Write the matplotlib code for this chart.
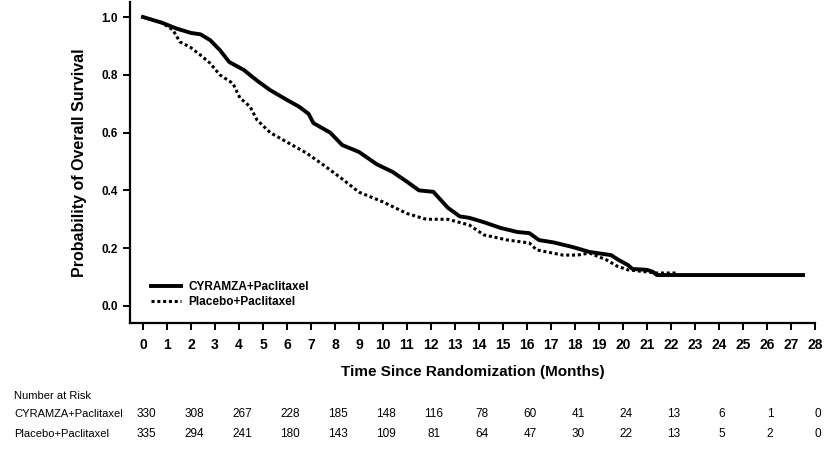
import matplotlib
matplotlib.use("Agg")
import matplotlib.pyplot as plt
from matplotlib import font_manager

names = {f.name for f in font_manager.fontManager.ttflist}
narrow = 'Liberation Sans Narrow' if 'Liberation Sans Narrow' in names else 'Liberation Sans'
plt.rcParams['font.family'] = ['Liberation Sans', 'DejaVu Sans']

# Data
cyr_t = [0, 0.4, 0.8, 1.4, 2.0, 2.4, 2.8, 3.2, 3.6, 4.2, 4.75, 5.3, 6.0, 6.5, 6.9,
         7.1, 7.8, 8.3, 9.0, 9.75, 10.4, 11.0, 11.5, 12.1, 12.7, 13.2, 13.6,
         14.2, 14.9, 15.6, 16.1, 16.5, 17.1, 17.9, 18.6, 19.5, 19.8, 20.2, 20.4,
         21.0, 21.25, 21.4, 27.5]
cyr_s = [1.0, 0.99, 0.98, 0.96, 0.945, 0.94, 0.92, 0.886, 0.844, 0.817, 0.78, 0.747, 0.713, 0.69, 0.665,
         0.633, 0.60, 0.557, 0.533, 0.49, 0.464, 0.43, 0.40, 0.395, 0.34, 0.31, 0.305,
         0.29, 0.27, 0.256, 0.252, 0.228, 0.22, 0.204, 0.187, 0.176, 0.16, 0.142, 0.128,
         0.125, 0.118, 0.107, 0.107]

pla_t = [0, 0.4, 0.8, 1.25, 1.54, 1.96, 2.4, 2.8, 3.2, 3.75, 4.04, 4.46, 4.75, 5.3, 6.0,
         6.8, 7.4, 8.2, 9.0, 10.0, 11.0, 11.8, 12.7, 13.6, 14.2, 15.2, 16.1, 16.4,
         17.5, 18.1, 18.6, 19.3, 19.75, 20.2, 21.4, 22.2]
pla_s = [1.0, 0.99, 0.98, 0.955, 0.914, 0.896, 0.868, 0.84, 0.80, 0.77, 0.72, 0.69, 0.644, 0.60, 0.567,
         0.53, 0.495, 0.446, 0.394, 0.36, 0.32, 0.30, 0.30, 0.28, 0.246, 0.228, 0.218, 0.194,
         0.176, 0.176, 0.183, 0.16, 0.138, 0.125, 0.114, 0.114]

risk_times = list(range(0, 29, 2))
risk_cyr = [330, 308, 267, 228, 185, 148, 116, 78, 60, 41, 24, 13, 6, 1, 0]
risk_pla = [335, 294, 241, 180, 143, 109, 81, 64, 47, 30, 22, 13, 5, 2, 0]

W, H = 835, 451
fig = plt.figure(figsize=(W / 100, H / 100), dpi=100)
ax = fig.add_axes([130 / W, 1 - 323 / H, (815 - 130) / W, (323 - 2) / H])

ax.plot(cyr_t, cyr_s, color='black', lw=2.8, solid_joinstyle='round',
        label='CYRAMZA+Paclitaxel')
ax.plot(pla_t, pla_s, color='black', lw=2.2, linestyle=(0, (1, 0.9)),
        label='Placebo+Paclitaxel')

ax.set_xlim(-0.54, 28.0)
ax.set_ylim(-0.059, 1.052)
ax.spines['top'].set_visible(False)
ax.spines['right'].set_visible(False)
ax.spines['left'].set_linewidth(1.6)
ax.spines['bottom'].set_linewidth(1.6)

ax.set_xticks(range(0, 29))
ax.set_yticks([0.0, 0.2, 0.4, 0.6, 0.8, 1.0])
ax.set_yticklabels(['0.0', '0.2', '0.4', '0.6', '0.8', '1.0'])
ax.tick_params(axis='both', direction='out', length=5, width=1.4, colors='black')
for lab in ax.get_xticklabels():
    lab.set_fontfamily([narrow, 'DejaVu Sans'])
    lab.set_fontweight('bold')
    lab.set_fontsize(10)
for lab in ax.get_yticklabels():
    lab.set_fontweight('bold')
    lab.set_fontsize(8.5)
ax.tick_params(axis='x', pad=6)
ax.tick_params(axis='y', pad=4)

ax.set_xlabel('Time Since Randomization (Months)', fontsize=11, fontweight='bold', labelpad=9)
ax.set_ylabel('Probability of Overall Survival', fontsize=11.5, fontweight='bold', labelpad=10)

leg = ax.legend(loc='lower left', bbox_to_anchor=(0.02, 0.025), frameon=False,
                prop={'weight': 'bold', 'size': 8.5}, handlelength=2.6,
                handletextpad=0.6, labelspacing=0.25, borderaxespad=0.2)

# Number at risk table
fig.text(14 / W, 1 - 396 / H, 'Number at Risk', fontsize=8, va='center', ha='left',
         family=[narrow, 'DejaVu Sans'])
fig.text(14 / W, 1 - 414 / H, 'CYRAMZA+Paclitaxel', fontsize=8, va='center', ha='left',
         family=[narrow, 'DejaVu Sans'])
fig.text(14 / W, 1 - 434 / H, 'Placebo+Paclitaxel', fontsize=8, va='center', ha='left',
         family=[narrow, 'DejaVu Sans'])
for t, a, b in zip(risk_times, risk_cyr, risk_pla):
    xf = fig.transFigure.inverted().transform(ax.transData.transform((t, 0)))[0]
    fig.text(xf + 3 / W, 1 - 414 / H, str(a), fontsize=8.5, va='center', ha='center',
             family=[narrow, 'DejaVu Sans'])
    fig.text(xf + 3 / W, 1 - 434 / H, str(b), fontsize=8.5, va='center', ha='center',
             family=[narrow, 'DejaVu Sans'])

fig.savefig('out.png', dpi=100)
